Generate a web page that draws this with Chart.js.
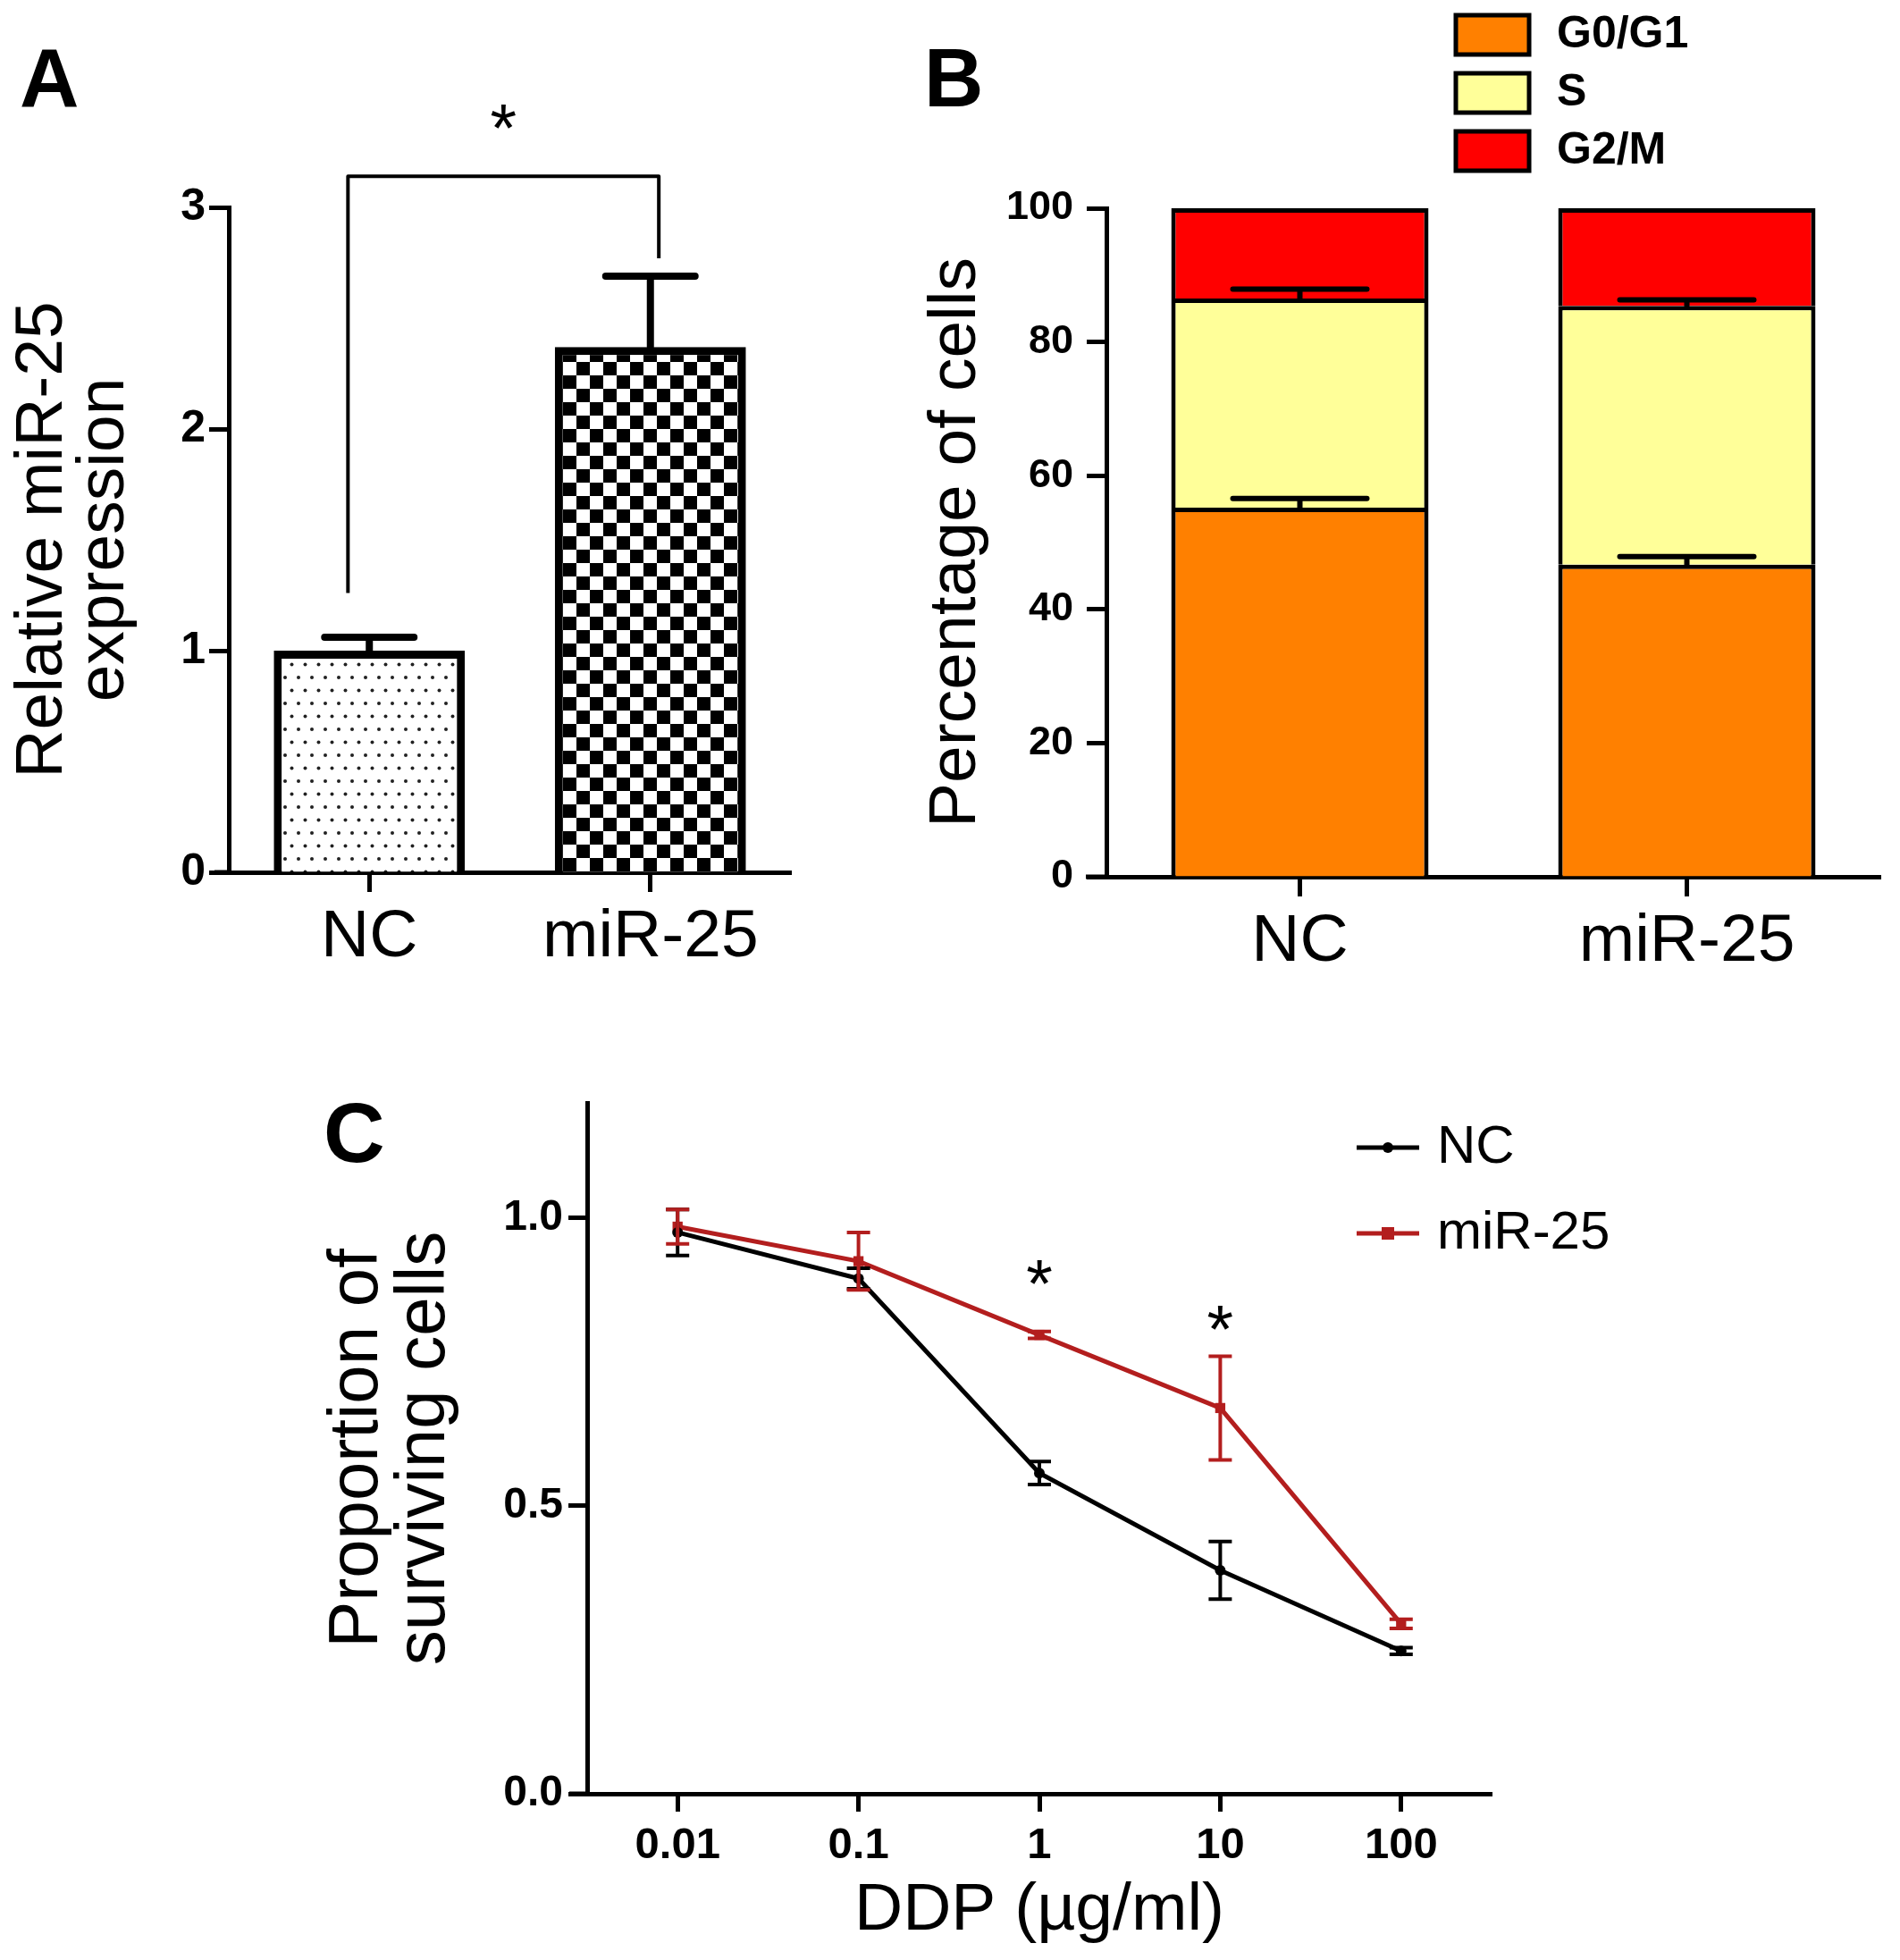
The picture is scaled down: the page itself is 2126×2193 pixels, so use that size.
<!DOCTYPE html>
<html>
<head>
<meta charset="utf-8">
<script src="https://cdn.jsdelivr.net/npm/chart.js@4.4.1/dist/chart.umd.min.js"></script>
<style>
  html, body { margin: 0; padding: 0; background: #fff; }
  body { width: 2126px; height: 2193px; position: relative; overflow: hidden; font-family: 'Liberation Sans', Arial, sans-serif; }
  canvas { position: absolute; }
  .panel { position: absolute; font-weight: bold; line-height: 1; color: #000; z-index: 2; }
</style>
</head>
<body>
<canvas id="chartA" width="1000" height="1120" style="left:0;top:0"></canvas>
<canvas id="chartB" width="1126" height="1120" style="left:1000px;top:0"></canvas>
<canvas id="chartC" width="1560" height="1013" style="left:300px;top:1180px"></canvas>
<div class="panel" style="left:22px;top:41px;font-size:92px">A</div>
<div class="panel" style="left:1034px;top:41px;font-size:92px">B</div>
<div class="panel" style="left:362px;top:1220px;font-size:95px">C</div>
<script>
const FONT = "'Liberation Sans', Arial, Helvetica, sans-serif";
Chart.defaults.font.family = FONT;
Chart.defaults.color = '#000';

// panel A - relative miR-25 expression
const groupsA = ['NC', 'miR-25'];
const expressionMean = [1.0, 2.37];
const expressionSem = [0.06, 0.32];
const bracketLevels = [1.26, 3.14, 2.77]; // left foot, top, right foot
const bracketSpots = [-0.076, 1.03];      // category positions of the bracket legs
const starLevelA = 3.43;

// panel B - cell cycle
const groupsB = ['NC', 'miR-25'];
const phaseNames = ['G0/G1', 'S', 'G2/M'];
const phaseColors = ['#ff8000', '#ffff99', '#ff0000'];
const g0g1Pct = [55.2, 46.7];
const sPct = [31.3, 38.7];
const g2mPct = [13.5, 14.6];
const g0g1Sem = [1.4, 1.2];
const sSem = [1.4, 0.9];

// panel C - survival vs DDP dose
const doses = [0.01, 0.1, 1, 10, 100];
const doseLabels = ['0.01', '0.1', '1', '10', '100'];
const ncSurvival = [0.975, 0.895, 0.557, 0.388, 0.248];
const ncSem = [0.04, 0.018, 0.02, 0.05, 0.006];
const mirSurvival = [0.985, 0.925, 0.797, 0.670, 0.295];
const mirSem = [0.03, 0.05, 0.006, 0.09, 0.008];
const starDoses = [1, 10];
const starLevelsC = [0.915, 0.835];


function drawStar(ctx, x, yc, size) {
  ctx.font = size + 'px ' + FONT;
  ctx.fillStyle = '#000';
  ctx.textAlign = 'center';
  ctx.textBaseline = 'alphabetic';
  ctx.fillText('*', x, yc + 0.58 * size);
}

const errorBars = {
  id: 'errorBars',
  afterDatasetsDraw(chart) {
    const ctx = chart.ctx;
    const y = chart.scales.y;
    chart.data.datasets.forEach((ds, di) => {
      if (!ds.errors) return;
      const meta = chart.getDatasetMeta(di);
      ctx.save();
      ctx.strokeStyle = ds.errorColor || '#000';
      ctx.lineWidth = ds.errorWidth || 4;
      ctx.lineCap = ds.errorCap || 'butt';
      meta.data.forEach((el, i) => {
        const e = ds.errors[i];
        if (!e) return;
        const d = y.getPixelForValue(0) - y.getPixelForValue(e);
        const top = el.y - d;
        const bot = ds.errorBoth ? el.y + d : el.y;
        const w = ds.capWidth / 2;
        ctx.beginPath();
        ctx.moveTo(el.x, bot);
        ctx.lineTo(el.x, top);
        ctx.moveTo(el.x - w, top);
        ctx.lineTo(el.x + w, top);
        if (ds.errorBoth) {
          ctx.moveTo(el.x - w, bot);
          ctx.lineTo(el.x + w, bot);
        }
        ctx.stroke();
      });
      ctx.restore();
    });
  }
};

// x axis in these plots pokes out a little left of the y axis
const axisStub = {
  id: 'axisStub',
  afterDraw(chart, args, opts) {
    const {ctx, chartArea} = chart;
    ctx.save();
    ctx.strokeStyle = '#000';
    ctx.lineWidth = opts.width;
    ctx.beginPath();
    ctx.moveTo(chartArea.left - opts.length, chartArea.bottom);
    ctx.lineTo(chartArea.left, chartArea.bottom);
    ctx.stroke();
    ctx.restore();
  }
};

const bracketA = {
  id: 'bracketA',
  afterDraw(chart) {
    const ctx = chart.ctx;
    const x = chart.scales.x, y = chart.scales.y;
    const x0 = x.getPixelForValue(bracketSpots[0]);
    const x1 = x.getPixelForValue(bracketSpots[1]);
    ctx.save();
    ctx.strokeStyle = '#000';
    ctx.lineWidth = 4;
    ctx.lineJoin = 'round';
    ctx.beginPath();
    ctx.moveTo(x0, y.getPixelForValue(bracketLevels[0]));
    ctx.lineTo(x0, y.getPixelForValue(bracketLevels[1]));
    ctx.lineTo(x1, y.getPixelForValue(bracketLevels[1]));
    ctx.lineTo(x1, y.getPixelForValue(bracketLevels[2]));
    ctx.stroke();
    drawStar(ctx, (x0 + x1) / 2, y.getPixelForValue(starLevelA), 76);
    ctx.restore();
  }
};

const phaseLegend = {
  id: 'phaseLegend',
  afterDraw(chart, args, opts) {
    const ctx = chart.ctx;
    ctx.save();
    chart.data.datasets.forEach((ds, i) => {
      const cy = opts.top + i * opts.spacing;
      ctx.fillStyle = ds.backgroundColor;
      ctx.fillRect(opts.x, cy - opts.boxH / 2, opts.boxW, opts.boxH);
      ctx.strokeStyle = '#000';
      ctx.lineWidth = 5;
      ctx.strokeRect(opts.x, cy - opts.boxH / 2, opts.boxW, opts.boxH);
      ctx.fillStyle = '#000';
      ctx.font = 'bold 50px ' + FONT;
      ctx.textAlign = 'left';
      ctx.textBaseline = 'middle';
      ctx.fillText(ds.label, opts.textX, cy);
    });
    ctx.restore();
  }
};

const lineLegend = {
  id: 'lineLegend',
  afterDraw(chart, args, opts) {
    const ctx = chart.ctx;
    ctx.save();
    chart.data.datasets.forEach((ds, i) => {
      const cy = opts.top + i * opts.spacing;
      ctx.strokeStyle = ds.borderColor;
      ctx.fillStyle = ds.borderColor;
      ctx.lineWidth = 5;
      ctx.beginPath();
      ctx.moveTo(opts.x, cy);
      ctx.lineTo(opts.x + opts.len, cy);
      ctx.stroke();
      const mx = opts.x + opts.len / 2;
      if (ds.pointStyle === 'rect') {
        ctx.fillRect(mx - 7, cy - 7, 14, 14);
      } else {
        ctx.beginPath();
        ctx.arc(mx, cy, 6, 0, Math.PI * 2);
        ctx.fill();
      }
      ctx.fillStyle = '#000';
      ctx.font = '60px ' + FONT;
      ctx.textAlign = 'left';
      ctx.textBaseline = 'middle';
      ctx.fillText(ds.label, opts.textX, cy);
    });
    ctx.restore();
  }
};

const starsC = {
  id: 'starsC',
  afterDraw(chart) {
    const ctx = chart.ctx;
    ctx.save();
    starDoses.forEach((d, i) => {
      drawStar(ctx, chart.scales.x.getPixelForValue(d), chart.scales.y.getPixelForValue(starLevelsC[i]), 76);
    });
    ctx.restore();
  }
};

function dotPattern() {
  const c = document.createElement('canvas');
  c.width = 15; c.height = 29;
  const g = c.getContext('2d');
  g.fillStyle = '#fff';
  g.fillRect(0, 0, 15, 29);
  g.fillStyle = '#222';
  g.beginPath(); g.arc(4, 4, 2, 0, Math.PI * 2); g.fill();
  g.beginPath(); g.arc(11.5, 18.5, 2, 0, Math.PI * 2); g.fill();
  return g.createPattern(c, 'repeat');
}

function checkerPattern() {
  const c = document.createElement('canvas');
  c.width = 30; c.height = 30;
  const g = c.getContext('2d');
  g.fillStyle = '#fff';
  g.fillRect(0, 0, 30, 30);
  g.fillStyle = '#000';
  g.fillRect(0, 0, 15, 15);
  g.fillRect(15, 15, 15, 15);
  return g.createPattern(c, 'repeat');
}

function axisGrid(len) {
  return { display: true, drawOnChartArea: false, drawTicks: true, offset: false,
           tickLength: len, tickWidth: 5, tickColor: '#000', color: '#000' };
}

// ---- A ----
new Chart(document.getElementById('chartA'), {
  type: 'bar',
  data: {
    labels: groupsA,
    datasets: [{
      data: expressionMean,
      backgroundColor: [dotPattern(), checkerPattern()],
      borderColor: '#000',
      borderWidth: 9,
      borderSkipped: 'start',
      barPercentage: 0.68,
      categoryPercentage: 1,
      errors: expressionSem,
      capWidth: 100,
      errorWidth: 8,
      errorCap: 'round'
    }]
  },
  options: {
    responsive: false,
    devicePixelRatio: 1,
    animation: false,
    layout: { padding: { top: 232, right: 115, left: 0, bottom: 0 } },
    plugins: { legend: { display: false }, tooltip: { enabled: false }, axisStub: { length: 16, width: 5 } },
    scales: {
      x: {
        afterFit: s => { s.height = 144; },
        grid: axisGrid(22),
        border: { display: true, width: 5, color: '#000' },
        ticks: { font: { size: 75 }, padding: 6 }
      },
      y: {
        min: 0, max: 3,
        afterFit: s => { s.width = 256; },
        grid: axisGrid(22),
        border: { display: true, width: 5, color: '#000' },
        ticks: { stepSize: 1, font: { size: 50, weight: 'bold' }, padding: 4 },
        title: { display: true, text: ['Relative miR-25', 'expression'], font: { size: 75, lineHeight: 0.92 }, padding: { top: 14 } }
      }
    }
  },
  plugins: [errorBars, axisStub, bracketA]
});

// ---- B ----
const phaseData = [g0g1Pct, sPct, g2mPct];
const phaseErrors = [g0g1Sem, sSem, null];
new Chart(document.getElementById('chartB'), {
  type: 'bar',
  data: {
    labels: groupsB,
    datasets: phaseNames.map((name, i) => ({
      label: name,
      data: phaseData[i],
      backgroundColor: phaseColors[i],
      borderColor: '#000',
      borderWidth: 5,
      borderSkipped: 'start',
      barPercentage: 0.665,
      categoryPercentage: 1,
      errors: phaseErrors[i],
      capWidth: 150,
      errorWidth: 6,
      errorCap: 'round'
    }))
  },
  options: {
    responsive: false,
    devicePixelRatio: 1,
    animation: false,
    layout: { padding: { top: 233, right: 22, left: 0, bottom: 0 } },
    plugins: {
      legend: { display: false }, tooltip: { enabled: false },
      axisStub: { length: 23, width: 5 },
      phaseLegend: { x: 629, boxW: 82, boxH: 44, textX: 742, top: 39, spacing: 65 }
    },
    scales: {
      x: {
        stacked: true,
        afterFit: s => { s.height = 139; },
        grid: axisGrid(22),
        border: { display: true, width: 5, color: '#000' },
        ticks: { font: { size: 75 }, padding: 6 }
      },
      y: {
        stacked: true,
        min: 0, max: 100,
        afterFit: s => { s.width = 238; },
        grid: axisGrid(22),
        border: { display: true, width: 5, color: '#000' },
        ticks: { stepSize: 20, font: { size: 45, weight: 'bold' }, padding: 15 },
        title: { display: true, text: 'Percentage of cells', font: { size: 75 }, padding: { top: 25 } }
      }
    }
  },
  plugins: [errorBars, axisStub, phaseLegend]
});

// ---- C ----
new Chart(document.getElementById('chartC'), {
  type: 'line',
  data: {
    datasets: [
      {
        label: 'NC',
        data: doses.map((d, i) => ({ x: d, y: ncSurvival[i] })),
        borderColor: '#000', backgroundColor: '#000',
        borderWidth: 5, tension: 0,
        pointStyle: 'circle', pointRadius: 6, pointBorderWidth: 0,
        errors: ncSem, errorBoth: true, capWidth: 26, errorWidth: 4, errorColor: '#000'
      },
      {
        label: 'miR-25',
        data: doses.map((d, i) => ({ x: d, y: mirSurvival[i] })),
        borderColor: '#b31e1e', backgroundColor: '#b31e1e',
        borderWidth: 5, tension: 0,
        pointStyle: 'rect', pointRadius: 8, pointBorderWidth: 0,
        errors: mirSem, errorBoth: true, capWidth: 26, errorWidth: 4, errorColor: '#b31e1e'
      }
    ]
  },
  options: {
    responsive: false,
    devicePixelRatio: 1,
    animation: false,
    layout: { padding: { top: 54, right: 191, left: 0, bottom: 0 } },
    plugins: {
      legend: { display: false }, tooltip: { enabled: false },
      axisStub: { length: 20, width: 5 },
      lineLegend: { x: 1218, len: 70, textX: 1308, top: 104, spacing: 96 }
    },
    scales: {
      x: {
        type: 'logarithmic',
        min: Math.pow(10, -2.5), max: Math.pow(10, 2.5),
        afterBuildTicks: s => { s.ticks = doses.map(v => ({ value: v })); },
        afterFit: s => { s.height = 186; },
        grid: axisGrid(20),
        border: { display: true, width: 5, color: '#000' },
        ticks: { autoSkip: false, maxRotation: 0, callback: (v, i) => doseLabels[i], font: { size: 49, weight: 'bold' }, padding: 9 },
        title: { display: true, text: 'DDP (µg/ml)', font: { size: 75 }, padding: { top: 0, bottom: 10 } }
      },
      y: {
        min: 0, max: 1.2,
        afterFit: s => { s.width = 357; },
        grid: axisGrid(21),
        border: { display: true, width: 5, color: '#000' },
        ticks: { stepSize: 0.5, includeBounds: false, callback: v => v.toFixed(1), font: { size: 48, weight: 'bold' }, padding: 6 },
        title: { display: true, text: ['Proportion of', 'surviving cells'], font: { size: 78, lineHeight: 0.96 }, padding: { top: 63 } }
      }
    }
  },
  plugins: [errorBars, axisStub, lineLegend, starsC]
});
</script>
</body>
</html>
